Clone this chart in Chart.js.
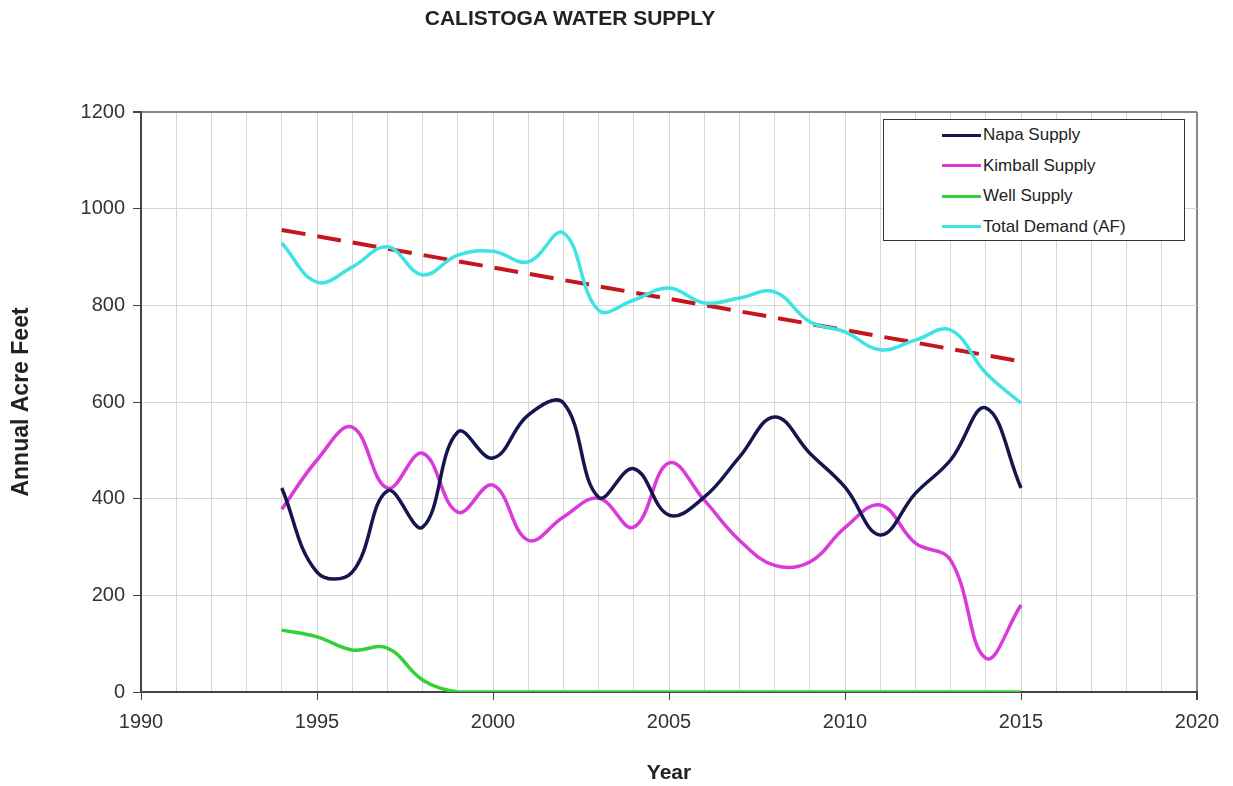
<!DOCTYPE html>
<html>
<head>
<meta charset="utf-8">
<script src="https://cdn.jsdelivr.net/npm/chart.js@4.4.1/dist/chart.umd.min.js"></script>
<style>
    body { margin: 0; background: #fff; font-family: Arial, "Liberation Sans", sans-serif; }
    #wrap { position: relative; width: 1233px; height: 786px; }
    #title {
        position: absolute; left: 370px; top: 6px; width: 400px;
        text-align: center; font-weight: bold; font-size: 21px; color: #222;
    }
    #legend {
        position: absolute; left: 883px; top: 119px; width: 302px; height: 122px;
        border: 1px solid #333; background: #fff; box-sizing: border-box;
        font-size: 17px; color: #222;
    }
    .leg-row { position: absolute; left: 58px; height: 20px; display: flex; align-items: center; }
    .leg-line { width: 39px; height: 3px; margin-right: 2px; }
</style>
</head>
<body>
<div id="wrap">
    <div id="title">CALISTOGA WATER SUPPLY</div>
    <canvas id="water-chart" width="1233" height="786"></canvas>
    <div id="legend"></div>
</div>
<script>
// Chart data
const years = [1994, 1995, 1996, 1997, 1998, 1999, 2000, 2001, 2002, 2003, 2004,
               2005, 2006, 2007, 2008, 2009, 2010, 2011, 2012, 2013, 2014, 2015];
const napaSupply    = [422, 248, 248, 416, 341, 538, 484, 573, 598, 403, 462,
                       366, 403, 486, 569, 494, 424, 325, 411, 480, 588, 422];
const kimballSupply = [378, 480, 548, 422, 494, 372, 428, 314, 362, 401, 341,
                       474, 397, 314, 262, 269, 340, 387, 308, 273, 70, 180];
const wellSupply    = [128, 114, 87, 91, 25, 0, 0, 0, 0, 0, 0,
                       0, 0, 0, 0, 0, 0, 0, 0, 0, 0, 0];
const totalDemand   = [929, 848, 879, 921, 863, 904, 912, 890, 950, 790, 811,
                       836, 805, 815, 828, 766, 745, 708, 728, 749, 660, 598];
const trendYears  = [1994, 2015];
const trendValues = [956, 684];

const yTicks = [0, 200, 400, 600, 800, 1000, 1200];

function toPoints(xs, ys) {
    return xs.map((x, i) => ({ x: x, y: ys[i] }));
}

const seriesStyle = [
    { label: 'Napa Supply', data: napaSupply, color: '#16164f' },
    { label: 'Kimball Supply', data: kimballSupply, color: '#d93ad9' },
    { label: 'Well Supply', data: wellSupply, color: '#35d035' },
    { label: 'Total Demand (AF)', data: totalDemand, color: '#3ee3e3' }
];

const datasets = seriesStyle.map(s => ({
    label: s.label,
    data: toPoints(years, s.data),
    borderColor: s.color,
    borderWidth: 3.5,
    pointRadius: 0,
    tension: 0.4,
    fill: false
}));

datasets.push({
    label: 'Trend',
    data: toPoints(trendYears, trendValues),
    borderColor: '#c4161c',
    borderWidth: 4,
    borderDash: [24, 12],
    pointRadius: 0,
    tension: 0,
    fill: false
});

// HTML legend
const legend = document.getElementById('legend');
seriesStyle.forEach((s, i) => {
    const row = document.createElement('div');
    row.className = 'leg-row';
    row.style.top = (5 + i * 30.5) + 'px';
    row.innerHTML = `<span class="leg-line" style="background:${s.color}"></span><span>${s.label}</span>`;
    legend.appendChild(row);
});

const ctx = document.getElementById('water-chart').getContext('2d');
new Chart(ctx, {
    type: 'line',
    data: { datasets: datasets },
    options: {
        responsive: false,
        animation: false,
        layout: { padding: { top: 112, right: 36, left: 0, bottom: 0 } },
        plugins: {
            legend: { display: false },
            title: { display: false },
            tooltip: { enabled: false }
        },
        scales: {
            x: {
                type: 'linear',
                min: 1990,
                max: 2020,
                afterFit: scale => { scale.height = 94; },
                ticks: {
                    stepSize: 1,
                    autoSkip: false,
                    maxRotation: 0,
                    padding: 10,
                    color: '#333',
                    font: { family: 'Arial, "Liberation Sans"', size: 20 },
                    callback: v => (v % 5 === 0 ? String(v) : '')
                },
                grid: {
                    color: c => (c.tick && c.tick.value === 2020 ? '#888' : '#d6d6d6'),
                    lineWidth: c => (c.tick && c.tick.value === 2020 ? 2 : 1),
                    tickLength: 8,
                    tickColor: c => (c.tick && c.tick.value % 5 === 0 ? '#444' : 'rgba(0,0,0,0)')
                },
                border: { color: '#444', width: 2 },
                title: {
                    display: true,
                    text: 'Year',
                    color: '#222',
                    font: { family: 'Arial, "Liberation Sans"', size: 21, weight: 'bold' },
                    padding: { top: 12, bottom: 0 }
                }
            },
            y: {
                min: 0,
                max: 1200,
                afterFit: scale => { scale.width = 141; },
                afterBuildTicks: scale => { scale.ticks = yTicks.map(v => ({ value: v })); },
                ticks: {
                    padding: 8,
                    color: '#333',
                    font: { family: 'Arial, "Liberation Sans"', size: 20 },
                    callback: v => String(v)
                },
                grid: {
                    color: c => (c.tick && c.tick.value === 1200 ? '#888' : '#d6d6d6'),
                    lineWidth: c => (c.tick && c.tick.value === 1200 ? 2 : 1),
                    tickLength: 8,
                    tickColor: '#444'
                },
                border: { color: '#444', width: 2 },
                title: {
                    display: true,
                    text: 'Annual Acre Feet',
                    color: '#222',
                    font: { family: 'Arial, "Liberation Sans"', size: 23, weight: 'bold' },
                    padding: { top: 8, bottom: 0 }
                }
            }
        }
    }
});
</script>
</body>
</html>
